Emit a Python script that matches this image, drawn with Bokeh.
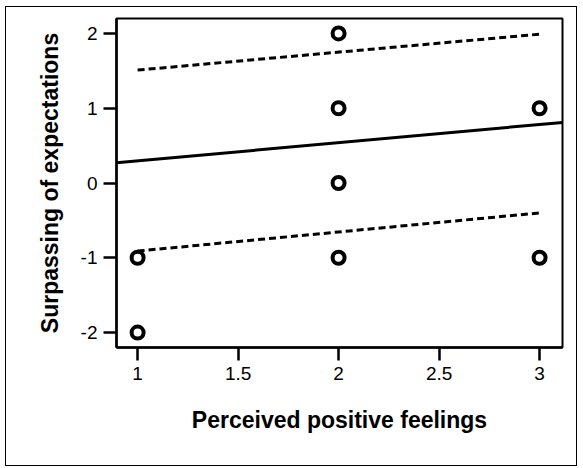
from bokeh.plotting import figure
from bokeh.models import Range1d, FixedTicker
from bokeh.embed import file_html
from bokeh.resources import INLINE

# data
px = [1, 1, 2, 2, 2, 2, 3, 3]
py = [-1, -2, 2, 1, 0, -1, 1, -1]

fit_x = [0.895, 3.114]
fit_y = [0.27, 0.81]
upper_x = [1, 3]
upper_y = [1.51, 1.99]
lower_x = [1, 3]
lower_y = [-0.91, -0.40]

x_ticks = [1, 1.5, 2, 2.5, 3]
x_labels = ["1", "1.5", "2", "2.5", "3"]
y_ticks = [-2, -1, 0, 1, 2]
y_labels = ["-2", "-1", "0", "1", "2"]

p = figure(output_backend="svg", toolbar_location=None,
           width=570, height=458,
           frame_width=446, frame_height=329,
           min_border_left=110, min_border_top=11, min_border_right=14, min_border_bottom=118,
           x_range=Range1d(0.895, 3.114), y_range=Range1d(-2.2, 2.2))
p.styles = {"border": "1px solid black", "margin-left": "5px", "margin-top": "6px"}
p.grid.visible = False
p.outline_line_color = "black"
p.outline_line_width = 2

for ax in (p.xaxis, p.yaxis):
    ax.axis_line_width = 2.5
    ax.major_tick_line_width = 2.5
    ax.major_tick_out = 13
    ax.major_tick_in = 0
    ax.minor_tick_line_color = None
    ax.major_label_text_font = "Liberation Sans"
    ax.major_label_text_font_size = "19px"
    ax.major_label_text_color = "black"
    ax.axis_label_text_font = "Liberation Sans"
    ax.axis_label_text_font_style = "bold"
    ax.axis_label_text_font_size = "23px"
    ax.axis_label_text_color = "black"

p.xaxis.ticker = FixedTicker(ticks=x_ticks)
p.yaxis.ticker = FixedTicker(ticks=y_ticks)
p.xaxis.major_label_overrides = {t: l for t, l in zip(x_ticks, x_labels)}
p.yaxis.major_label_overrides = {t: l for t, l in zip(y_ticks, y_labels)}
p.xaxis.axis_label = "Perceived positive feelings"
p.yaxis.axis_label = "Surpassing of expectations"
p.xaxis.major_label_standoff = 6
p.xaxis.axis_label_standoff = 24
p.yaxis.major_label_standoff = 6
p.yaxis.axis_label_standoff = 15

p.line(fit_x, fit_y, line_color="black", line_width=3)
p.line(upper_x, upper_y, line_color="black", line_width=3, line_dash="7 4")
p.line(lower_x, lower_y, line_color="black", line_width=3, line_dash="7 4")
p.scatter(px, py, marker="circle", size=12, fill_color="white", line_color="black", line_width=4)

open("out.html", "w").write(file_html(p, INLINE))
